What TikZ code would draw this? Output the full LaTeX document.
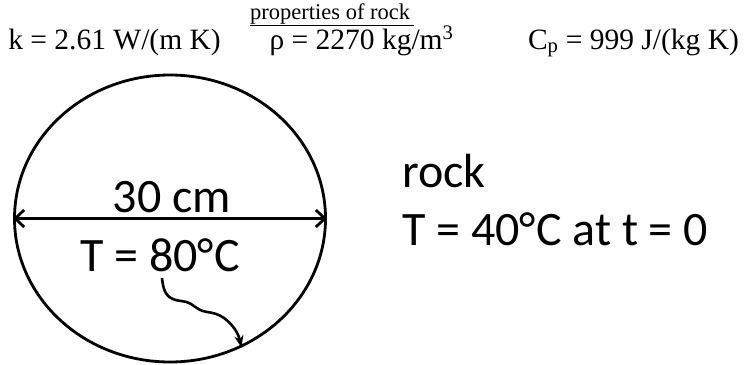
\documentclass[tikz,border=0pt]{standalone}
\usepackage{fontspec}
\setmainfont{Liberation Serif}
\newfontfamily\calib{Carlito}
\usetikzlibrary{arrows.meta,shapes.geometric}
\tikzset{
  outline/.style={line width=2.8pt,draw=black},
  bigtext/.style={font=\calib\fontsize{48}{52}\selectfont,inner sep=0pt,anchor=base},
  proptext/.style={font=\fontsize{29.5}{33}\selectfont,inner sep=0pt,anchor=base},
  titletext/.style={font=\fontsize{22.5}{25}\selectfont,inner sep=0pt,anchor=base},
  dimarrow/.style={line width=2.8pt,{Straight Barb[length=9pt,width=17pt,line width=2.8pt]}-{Straight Barb[length=9pt,width=17pt,line width=2.8pt]}},
  wavearrow/.style={line width=2.6pt,-{Stealth[length=12pt,width=9pt]}}
}
\begin{document}
\begin{tikzpicture}[x=1pt,y=-1pt]
\useasboundingbox (0,0) rectangle (746,364);
\node[titletext] (title) at (332,19) {\underline{properties of rock\,}};
\node[proptext] (kval) at (114.5,49) {k = 2.61 W/(m K)};
\node[proptext] (rho) at (361.5,49) {ρ = 2270 kg/m\textsuperscript{3}};
\node[proptext] (cp) at (633.5,49) {C\textsubscript{p} = 999 J/(kg K)};
\node[ellipse,outline,minimum width=311pt,minimum height=287pt,inner sep=0pt] (ball) at (170,218.5) {};
\draw[dimarrow] (ball.west) -- (ball.east);
\node[bigtext] (diam) at (172,212) {30 cm};
\node[bigtext] (tin) at (160,271) {T = 80°C};
\node[bigtext,anchor=base west] (rocklbl) at (402,187) {rock};
\node[bigtext,anchor=base west] (tinit) at (402,245) {T = 40°C at t = 0};
\coordinate (wstart) at (162,278);
\draw[wavearrow] (wstart) .. controls (163,288) and (165,296) .. (173,299)
  .. controls (180,302) and (184,300) .. (191,304)
  .. controls (197,308) and (200,311) .. (207,312)
  .. controls (214,313) and (218,314) .. (224,318)
  .. controls (232,324) and (238,332) .. (ball.-61);
\end{tikzpicture}
\end{document}
